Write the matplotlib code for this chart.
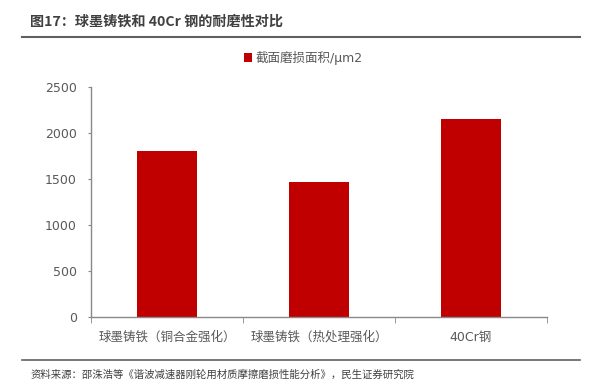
import matplotlib
matplotlib.use("Agg")
import matplotlib.pyplot as plt
from matplotlib.lines import Line2D

plt.rcParams['font.family'] = ['DejaVu Sans', 'Noto Sans CJK SC']

categories = ['球墨铸铁（铜合金强化）', '球墨铸铁（热处理强化）', '40Cr钢']
values = [1800, 1465, 2150]
series_name = '截面磨损面积/μm2'
yticks = [0, 500, 1000, 1500, 2000, 2500]
title = '图17：球墨铸铁和 40Cr 钢的耐磨性对比'
source = '资料来源：邵洙浩等《谐波减速器刚轮用材质摩擦磨损性能分析》，民生证券研究院'

W, H = 599, 390
fig = plt.figure(figsize=(W/100, H/100), dpi=100)
grey = '#595959'
axc = '#898989'
red = '#C00000'
cjk = ['Noto Sans CJK SC', 'DejaVu Sans']

ax = fig.add_axes([91/W, 1-317/H, (547-91)/W, (317-87)/H])
x = list(range(len(categories)))
ax.bar(x, values, width=0.4, color=red, label=series_name)
ax.set_xlim(-0.5, len(categories)-0.5)
ax.set_ylim(0, 2500)
ax.set_yticks(yticks)
ax.set_yticklabels([str(v) for v in yticks], color=grey, fontsize=9)
ax.set_xticks(x)
ax.set_xticklabels(categories, color=grey, fontsize=9)
ax.tick_params(axis='x', length=0, pad=10)
ax.tick_params(axis='y', length=2.2, color=axc, pad=8)
ax.set_xticks([-0.5, 0.5, 1.5, 2.5], minor=True)
ax.tick_params(axis='x', which='minor', length=4, color=axc)
for s in ['top', 'right']:
    ax.spines[s].set_visible(False)
for s in ['left', 'bottom']:
    ax.spines[s].set_color(axc)
    ax.spines[s].set_linewidth(1.0)

leg = ax.legend(loc='center', bbox_to_anchor=(303/W, 1-58/H), bbox_transform=fig.transFigure,
                frameon=False, fontsize=9, handlelength=0.65, handleheight=0.65, handletextpad=0.3,
                borderpad=0)
for t in leg.get_texts():
    t.set_color(grey)

fig.text(30/W, 1-22/H, title, fontsize=10.2, fontweight='bold', color='#404040', va='center', ha='left',
         family=cjk)
fig.add_artist(Line2D([22/W, 580/W], [1-37/H, 1-37/H], color='#606060', lw=1.5))
fig.add_artist(Line2D([22/W, 580/W], [1-360/H, 1-360/H], color='#606060', lw=1.2))
fig.text(31/W, 1-375/H, source, fontsize=7.5, color='#404040', va='center', ha='left', family=cjk)

fig.savefig('out.png', dpi=100)
